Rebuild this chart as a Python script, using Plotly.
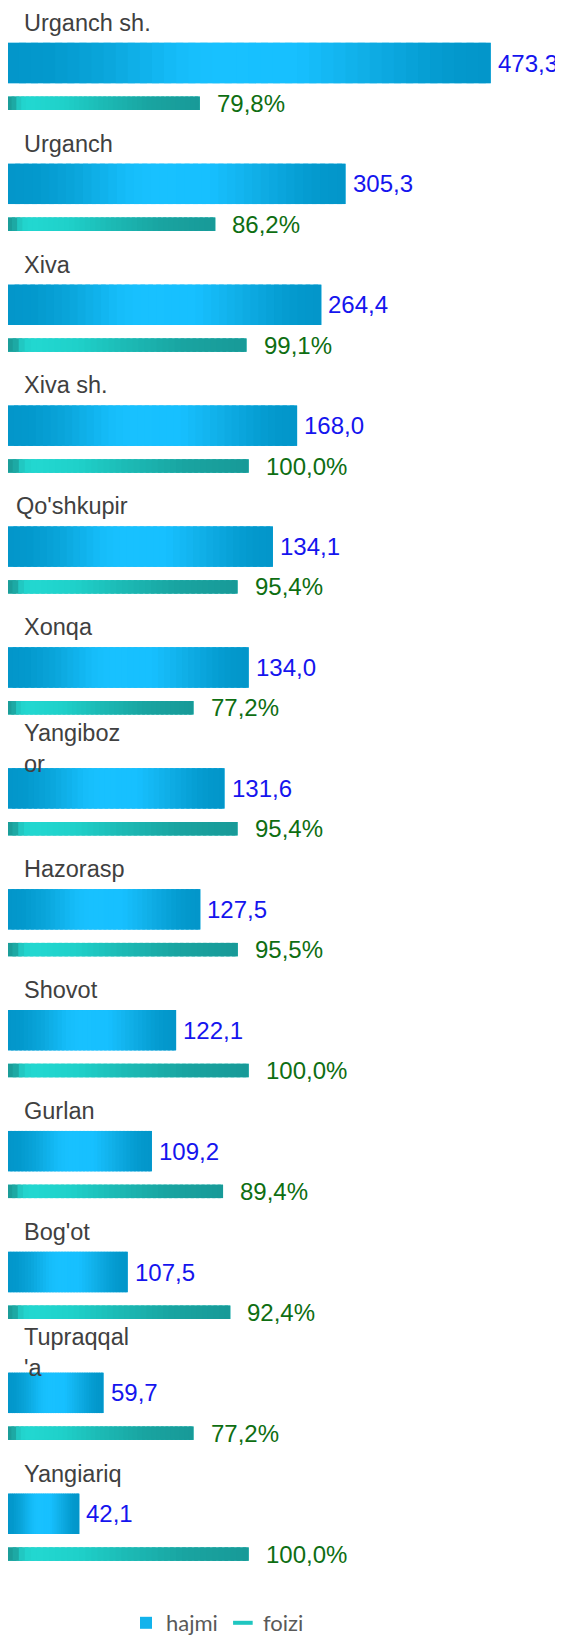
import plotly.graph_objects as go

# ---------------- data ----------------
categories = ["Urganch sh.", "Urganch", "Xiva", "Xiva sh.", "Qo'shkupir", "Xonqa",
              "Yangibozor", "Hazorasp", "Shovot", "Gurlan", "Bog'ot", "Tupraqqal'a", "Yangiariq"]
# printed 'hajmi' values
hajmi_values = [473.3, 305.3, 264.4, 168.0, 134.1, 134.0, 131.6, 127.5, 122.1, 109.2, 107.5, 59.7, 42.1]
# lengths of the 'hajmi' bars as drawn (same axis as the percentages)
hajmi_bar = [200, 140, 130, 120, 110, 100, 90, 80, 70, 60, 50, 40, 30]
# 'foizi' percentages
foizi_values = [79.8, 86.2, 99.1, 100.0, 95.4, 77.2, 95.4, 95.5, 100.0, 89.4, 92.4, 77.2, 100.0]
series_names = ["hajmi", "foizi"]

# ---------------- styling ----------------
label_break = {"Yangibozor": 8, "Tupraqqal'a": 9}
label_dx = {"Qo'shkupir": -8}

HAJMI_STOPS = [(0.0, "#0396ca"), (0.08, "#0398cc"), (0.2, "#0aa5da"), (0.35, "#15bcf9"),
               (0.42, "#18c1ff"), (0.6, "#17c0ff"), (0.72, "#11b1ea"), (0.85, "#07a0d6"),
               (0.93, "#0398cc"), (1.0, "#0396ca")]
FOIZI_STOPS = [(0.0, "#1b9b97"), (0.03, "#1c9f9b"), (0.07, "#22d2cb"), (0.12, "#22d8d1"),
               (0.3, "#1fd0c9"), (0.5, "#1cbab5"), (0.75, "#19a3a0"), (1.0, "#189a98")]


def hex2rgb(h):
    h = h.lstrip("#")
    return tuple(int(h[i:i + 2], 16) for i in (0, 2, 4))


def color_at(stops, f):
    for (f0, c0), (f1, c1) in zip(stops[:-1], stops[1:]):
        if f0 <= f <= f1:
            t = 0 if f1 == f0 else (f - f0) / (f1 - f0)
            a, b = hex2rgb(c0), hex2rgb(c1)
            return "rgb(%d,%d,%d)" % tuple(round(a[i] + (b[i] - a[i]) * t) for i in range(3))
    return stops[-1][1]


def fmt(v, suffix=""):
    return ("%.1f" % v).replace(".", ",") + suffix


def wrap(name):
    if name in label_break:
        k = label_break[name]
        return name[:k] + "<br>" + name[k:]
    return name


n = len(categories)
label_y = [3 * i for i in range(n)]
hajmi_y = [3 * i + 1 for i in range(n)]
foizi_y = [3 * i + 2 for i in range(n)]

HAJMI_W = 1.0
FOIZI_W = 0.333

fig = go.Figure()

# base bars (carry the legend entry for 'hajmi')
fig.add_trace(go.Bar(x=hajmi_bar, y=hajmi_y, orientation="h", width=HAJMI_W,
                     marker=dict(color="#12b3ec", line=dict(width=0)),
                     name=series_names[0], hoverinfo="skip"))
fig.add_trace(go.Scatter(x=[None], y=[None], mode="markers", name=series_names[1],
                         marker=dict(symbol="line-ew", size=14,
                                     line=dict(width=4, color="#1fc6c0"))))
fig.add_trace(go.Bar(x=foizi_values, y=foizi_y, orientation="h", width=FOIZI_W,
                     marker=dict(color="#1fc6c0", line=dict(width=0)),
                     name=series_names[1], showlegend=False, hoverinfo="skip"))


def gradient_trace(values, ys, width, stops, N=40):
    xs, bases, yy, cols = [], [], [], []
    for v, y in zip(values, ys):
        for k in range(N):
            b = v * k / N
            e = min(v * (k + 1.6) / N, v)
            xs.append(e - b)
            bases.append(b)
            yy.append(y)
            cols.append(color_at(stops, (k + 0.5) / N))
    return go.Bar(x=xs, base=bases, y=yy, orientation="h", width=width,
                  marker=dict(color=cols, line=dict(width=0)),
                  showlegend=False, hoverinfo="skip")


fig.add_trace(gradient_trace(hajmi_bar, hajmi_y, HAJMI_W, HAJMI_STOPS))
fig.add_trace(gradient_trace(foizi_values, foizi_y, FOIZI_W, FOIZI_STOPS))

annotations = []
for i, name in enumerate(categories):
    annotations.append(dict(x=0, y=label_y[i], xref="paper", yref="y", text=wrap(name),
                            showarrow=False, xanchor="left", yanchor="middle", align="left",
                            xshift=14 + label_dx.get(name, 0),
                            font=dict(family="Liberation Sans, Arial", size=23.5, color="#404040")))
    annotations.append(dict(x=hajmi_bar[i], y=hajmi_y[i], xref="x", yref="y",
                            text=fmt(hajmi_values[i]), showarrow=False,
                            xanchor="left", yanchor="middle", xshift=5,
                            font=dict(family="Liberation Sans, Arial", size=24, color="#1515ee")))
    annotations.append(dict(x=foizi_values[i], y=foizi_y[i], xref="x", yref="y",
                            text=fmt(foizi_values[i], "%"), showarrow=False,
                            xanchor="left", yanchor="middle", xshift=15,
                            font=dict(family="Liberation Sans, Arial", size=24, color="#0e6e12")))

# page shows the figure offset by the default 8px body margin
W, H = 555, 1630
PX_PER_UNIT_X = 2.42
PX_PER_SLOT = 40.3
PLOT_BOTTOM = 38
x0 = 1.3 / PX_PER_UNIT_X
y_top = -14.7 / PX_PER_SLOT
y_bot = y_top + (H - PLOT_BOTTOM) / PX_PER_SLOT

fig.update_layout(
    width=W, height=H,
    margin=dict(l=0, r=0, t=0, b=PLOT_BOTTOM, autoexpand=False),
    paper_bgcolor="white", plot_bgcolor="white",
    barmode="overlay",
    xaxis=dict(visible=False, range=[x0, x0 + W / PX_PER_UNIT_X], fixedrange=True),
    yaxis=dict(visible=False, range=[y_bot, y_top], fixedrange=True),
    showlegend=True,
    legend=dict(orientation="h", x=118 / W, xanchor="left",
                y=-(PLOT_BOTTOM + 6) / (H - PLOT_BOTTOM), yanchor="bottom",
                font=dict(family="Lato, Open Sans", size=22, color="#595959"),
                bgcolor="rgba(0,0,0,0)", itemwidth=30),
    annotations=annotations,
)

fig.write_html("out.html")
